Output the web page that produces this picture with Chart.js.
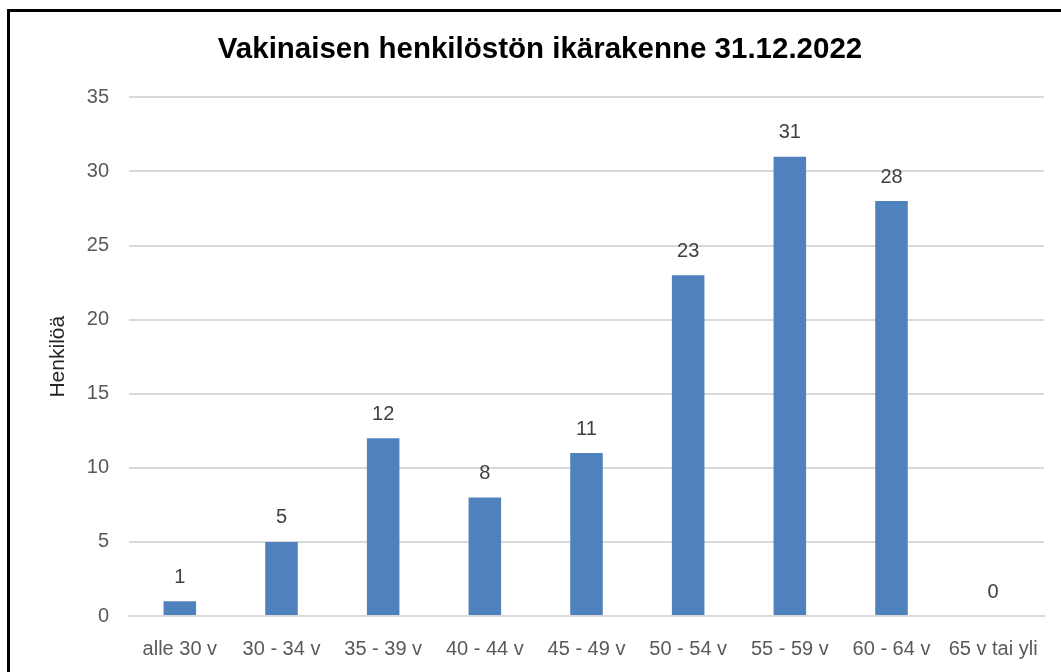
<!DOCTYPE html>
<html lang="fi">
<head>
   <meta charset="UTF-8">
   <title>Vakinaisen henkilöstön ikärakenne 31.12.2022</title>
   <script src="https://cdn.jsdelivr.net/npm/chart.js@4.4.1/dist/chart.umd.min.js"></script>
   <style>
      body { margin: 0; background: #fff; }
      .frame {
         position: absolute; left: 7px; top: 9px; width: 1100px; height: 700px;
         border-left: 3px solid #000; border-top: 3px solid #000;
      }
      #myChart { position: absolute; left: 0; top: 0; }
   </style>
</head>
<body>
   <div class="frame"></div>
   <canvas id="myChart" width="1061" height="672"></canvas>
   <script>
      const chartTitle = 'Vakinaisen henkilöstön ikärakenne 31.12.2022';
      const yTitle = 'Henkilöä';
      const ageGroups = ['alle 30 v', '30 - 34 v', '35 - 39 v', '40 - 44 v', '45 - 49 v',
         '50 - 54 v', '55 - 59 v', '60 - 64 v', '65 v tai yli'];
      const headcount = [1, 5, 12, 8, 11, 23, 31, 28, 0];
      const yMax = 35;
      const yStep = 5;

      const fontFamily = '"Liberation Sans", Arial, sans-serif';

      // values above the bars
      const barLabels = {
         id: 'barLabels',
         afterDatasetsDraw(chart) {
            const ctx = chart.ctx;
            const meta = chart.getDatasetMeta(0);
            ctx.save();
            ctx.font = '20px ' + fontFamily;
            ctx.fillStyle = '#404040';
            ctx.textAlign = 'center';
            ctx.textBaseline = 'middle';
            meta.data.forEach((bar, i) => {
               ctx.fillText(String(headcount[i]), bar.x, bar.y - 24);
            });
            ctx.restore();
         }
      };

      new Chart(document.getElementById('myChart').getContext('2d'), {
         type: 'bar',
         data: {
            labels: ageGroups,
            datasets: [{
               data: headcount,
               backgroundColor: '#4F81BD',
               borderWidth: 0,
               barPercentage: 0.32,
               categoryPercentage: 1
            }]
         },
         options: {
            responsive: false,
            animation: false,
            layout: { padding: { left: 36, right: 17, top: 0, bottom: 0 } },
            plugins: {
               legend: { display: false },
               tooltip: { enabled: false },
               title: {
                  display: true,
                  text: chartTitle,
                  color: '#000',
                  font: { family: fontFamily, size: 29.5, weight: 'bold' },
                  padding: { top: 32, bottom: 30 }
               }
            },
            scales: {
               x: {
                  grid: { display: false, drawTicks: false },
                  border: { display: true, color: '#D9D9D9', width: 2 },
                  ticks: {
                     color: '#595959',
                     font: { family: fontFamily, size: 20 },
                     padding: 21,
                     maxRotation: 0,
                     autoSkip: false
                  },
                  afterFit: s => { s.height = 56; }
               },
               y: {
                  min: 0,
                  max: yMax,
                  grid: { color: '#D9D9D9', lineWidth: 2, drawTicks: false },
                  border: { display: false },
                  ticks: {
                     stepSize: yStep,
                     color: '#595959',
                     font: { family: fontFamily, size: 20 },
                     padding: 20
                  },
                  title: {
                     display: true,
                     text: yTitle,
                     color: '#262626',
                     font: { family: fontFamily, size: 21 },
                     padding: { top: 10, bottom: 0 }
                  },
                  afterFit: s => { s.width = 93; }
               }
            }
         },
         plugins: [barLabels]
      });
   </script>
</body>
</html>
